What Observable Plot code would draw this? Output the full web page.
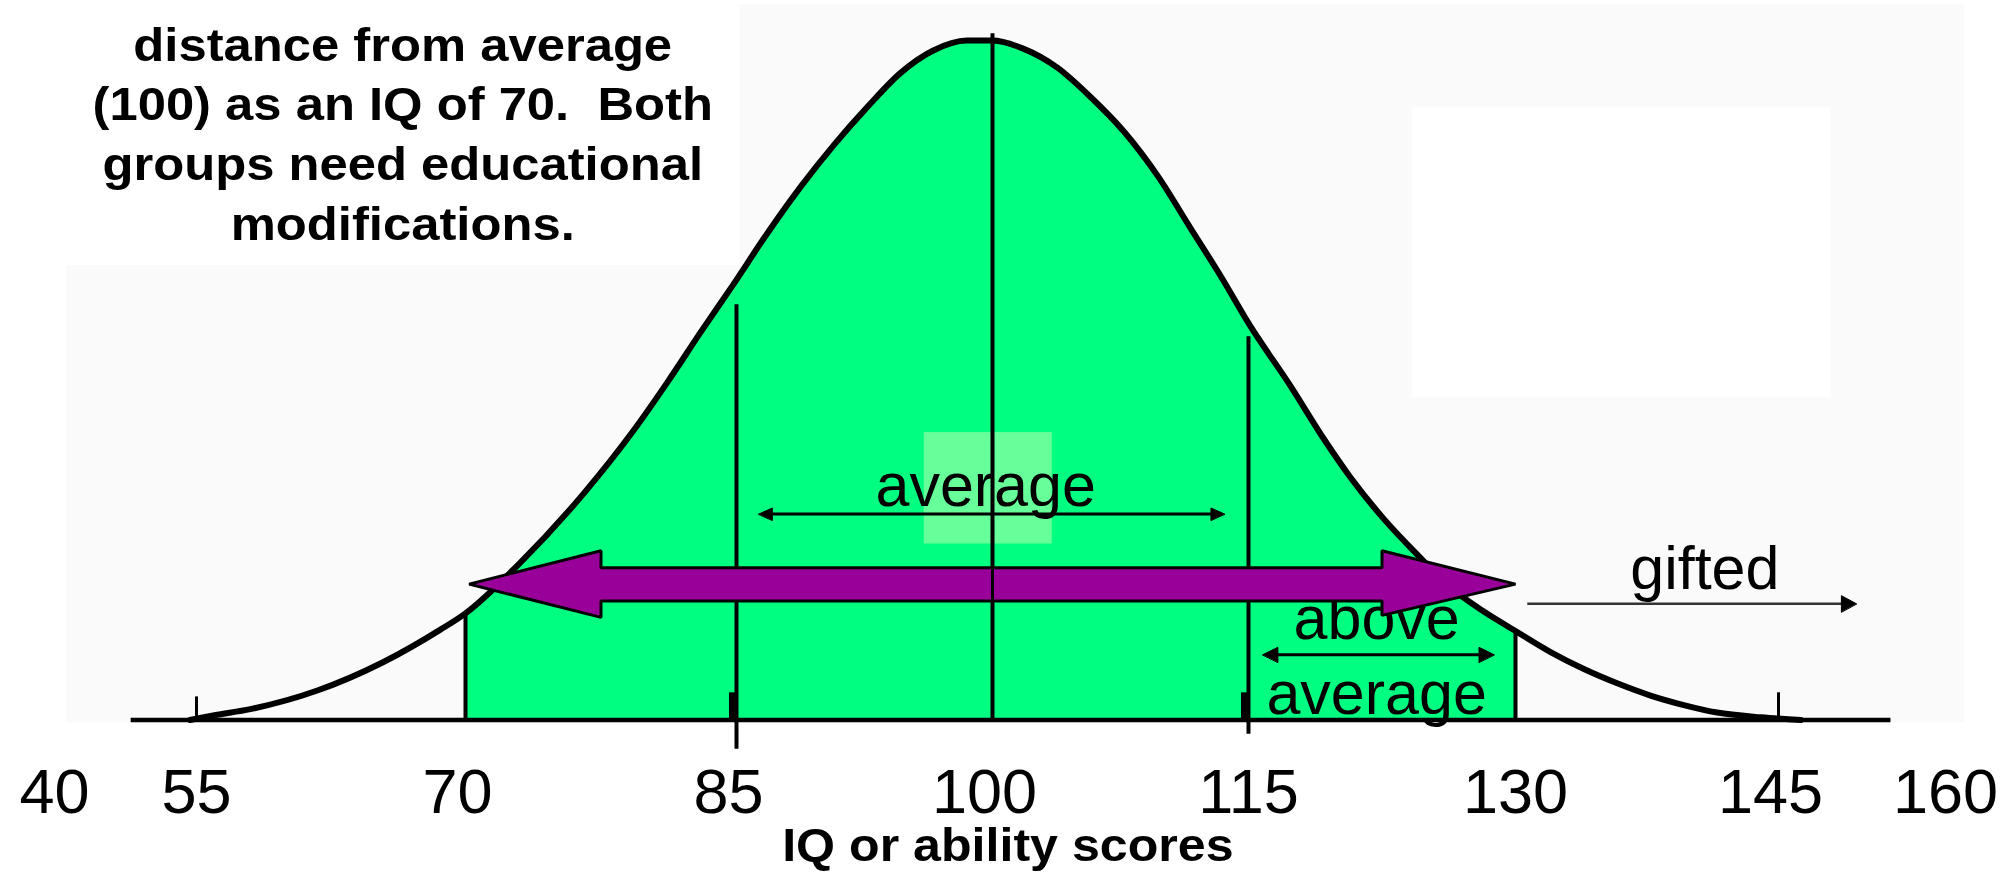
<!DOCTYPE html>
<html>
<head>
<meta charset="utf-8">
<script src="https://cdn.jsdelivr.net/npm/d3@7"></script>
<script src="https://cdn.jsdelivr.net/npm/@observablehq/plot@0.6"></script>
<style>
html, body { margin: 0; padding: 0; background: #ffffff; }
svg text { white-space: pre; }
</style>
</head>
<body>
<div id="chart"></div>
<script>
// ---- data ----
// IQ score along the curve and relative curve height (peak = 1)
const iqScores = [54.3, 56.0, 58.0, 61.7, 65.4, 68.6, 70.0, 72.9, 76.5, 79.3, 81.2, 83.0, 84.8, 86.8, 88.8, 90.7, 92.7, 94.6, 96.5, 98.5, 100, 101.8, 103.8, 105.7, 107.7, 109.7, 111.6, 113.5, 115, 117.4, 119.2, 120.7, 122.6, 124.5, 126.3, 128.2, 130, 132.0, 133.9, 135.8, 137.7, 139.6, 141.5, 144.0, 147];
const curveHeights = [0, 0.007, 0.016, 0.043, 0.085, 0.133, 0.157, 0.228, 0.332, 0.426, 0.498, 0.570, 0.640, 0.716, 0.786, 0.846, 0.903, 0.952, 0.985, 1.0, 1.0, 0.988, 0.960, 0.918, 0.866, 0.800, 0.724, 0.648, 0.584, 0.490, 0.415, 0.358, 0.296, 0.243, 0.196, 0.160, 0.131, 0.100, 0.075, 0.054, 0.036, 0.022, 0.011, 0.004, 0];
const tickValues = [40, 55, 70, 85, 100, 115, 130, 145, 160];
const shiftedTickLabels = [70, 85, 100, 145];
const shadedRange = [70, 130];
const guideIQ = [70, 85, 100, 115, 130];
const guideTops = [0.157, 0.611, 1.01, 0.564, 0.131];
const guideBottoms = [0, -0.043, 0, -0.021, 0];
const minorTickIQ = [55, 145];
const minorTickTops = [0.034, 0.04];
const titleText = "distance from average\n(100) as an IQ of 70.  Both\ngroups need educational\nmodifications.";
const axisTitle = "IQ or ability scores";
const averageLabel = "average";
const aboveLabel = ["above", "average"];
const giftedLabel = "gifted";

// ---- build tables ----
const curve = iqScores.map((iq, i) => ({iq, h: curveHeights[i]}));
const shaded = curve.filter(d => d.iq >= shadedRange[0] && d.iq <= shadedRange[1]);
const guides = guideIQ.map((iq, i) => ({iq, y1: guideBottoms[i], y2: guideTops[i]}));
const minor = minorTickIQ.map((iq, i) => ({iq, y2: minorTickTops[i]}));

const head = (x, y, dir, len, half) => [[x, y], [x - dir * len, y + half], [x - dir * len, y - half]];
const polyOpts = {x: d => d[0], y: d => d[1], curve: "linear-closed"};

const arrowLeft = [[100, 0.224], [77.5, 0.224], [77.5, 0.249], [70.2, 0.2], [77.5, 0.151], [77.5, 0.175], [100, 0.175]];
const arrowRight = [[100, 0.224], [122.5, 0.224], [122.5, 0.249], [130, 0.2], [122.5, 0.154], [122.5, 0.175], [100, 0.175]];

const sans = "'Liberation Sans', Arial, Helvetica, sans-serif";

const chart = Plot.plot({
  width: 2001,
  height: 875,
  marginTop: 0, marginRight: 0, marginBottom: 0, marginLeft: 0,
  style: {background: "#ffffff", overflow: "visible"},
  x: {type: "linear", domain: tickValues, range: [54, 196, 465, 736, 992, 1248, 1515, 1778, 1945], axis: null},
  y: {type: "linear", domain: [0, 1], range: [719.5, 40], axis: null},
  marks: [
    // faint slide background panels
    Plot.rect([{x1: 41.3, x2: 161.7, y1: -0.004, y2: 0.669}, {x1: 85.2, x2: 161.7, y1: 0.669, y2: 1.053}],
      {x1: "x1", x2: "x2", y1: "y1", y2: "y2", fill: "#fafafa"}),
    Plot.rect([{x1: 124.2, x2: 149.7, y1: 0.474, y2: 0.901}],
      {x1: "x1", x2: "x2", y1: "y1", y2: "y2", fill: "#ffffff"}),
    // green shaded region 70-130
    Plot.areaY(shaded, {x: "iq", y: "h", fill: "#00ff80", curve: "monotone-x"}),
    // lighter highlight box behind "average"
    Plot.rect([{x1: 96.0, x2: 103.5, y1: 0.259, y2: 0.423}],
      {x1: "x1", x2: "x2", y1: "y1", y2: "y2", fill: "#66ff99"}),
    // vertical guide lines
    Plot.ruleX(guides, {x: "iq", y1: "y1", y2: "y2", stroke: "#000", strokeWidth: 4}),
    Plot.ruleX([85, 115], {x: d => d, y1: 0, y2: 0.04, stroke: "#000", strokeWidth: 9, dx: -3}),
    Plot.ruleX(minor, {x: "iq", y1: 0, y2: "y2", stroke: "#000", strokeWidth: 3}),
    // bell curve outline
    Plot.line(curve, {x: "iq", y: "h", stroke: "#000", strokeWidth: 6, curve: "monotone-x"}),
    // baseline
    Plot.ruleY([0], {x1: 48.1, x2: 155.1, stroke: "#000", strokeWidth: 4.5}),
    // "average" label and arrow
    Plot.text([averageLabel], {x: 99.6, y: 0.315, text: d => d, fontSize: 61, fontFamily: sans, lineAnchor: "bottom"}),
    Plot.ruleY([0.303], {x1: 87.0, x2: 112.9, stroke: "#000", strokeWidth: 3}),
    Plot.line(head(86.3, 0.303, -1, 0.8, 0.009), {...polyOpts, fill: "#000", stroke: "#000", strokeWidth: 1}),
    Plot.line(head(113.6, 0.303, 1, 0.8, 0.009), {...polyOpts, fill: "#000", stroke: "#000", strokeWidth: 1}),
    // "above average" label and arrow
    Plot.text([aboveLabel[0]], {x: 122.2, y: 0.119, text: d => d, fontSize: 61, fontFamily: sans, lineAnchor: "bottom"}),
    Plot.text([aboveLabel[1]], {x: 122.2, y: 0.009, text: d => d, fontSize: 61, fontFamily: sans, lineAnchor: "bottom"}),
    Plot.ruleY([0.096], {x1: 116.5, x2: 128.0, stroke: "#000", strokeWidth: 3}),
    Plot.line(head(115.8, 0.096, -1, 0.85, 0.011), {...polyOpts, fill: "#000", stroke: "#000", strokeWidth: 1}),
    Plot.line(head(128.8, 0.096, 1, 0.85, 0.011), {...polyOpts, fill: "#000", stroke: "#000", strokeWidth: 1}),
    // big purple double arrow
    Plot.line(arrowLeft, {...polyOpts, fill: "#990099", stroke: "#000", strokeWidth: 3, strokeLinejoin: "miter"}),
    Plot.line(arrowRight, {...polyOpts, fill: "#990099", stroke: "#000", strokeWidth: 3, strokeLinejoin: "miter"}),
    // "gifted" label and arrow
    Plot.text([giftedLabel], {x: 140.8, y: 0.193, text: d => d, fontSize: 61, fontFamily: sans, lineAnchor: "bottom"}),
    Plot.ruleY([0.171], {x1: 130.7, x2: 150.8, stroke: "#333", strokeWidth: 2.5}),
    Plot.line(head(152.0, 0.171, 1, 1.35, 0.012), {...polyOpts, fill: "#000", stroke: "#000", strokeWidth: 1}),
    // tick labels (a few sit slightly left of their tick in the slide)
    Plot.text(tickValues.filter(v => !shiftedTickLabels.includes(v)), {x: d => d, y: -0.137, text: d => String(d), fontSize: 63, fontFamily: sans, lineAnchor: "bottom"}),
    Plot.text(shiftedTickLabels, {x: d => d, y: -0.137, text: d => String(d), fontSize: 63, fontFamily: sans, lineAnchor: "bottom", dx: -8}),
    // axis title
    Plot.text([axisTitle], {x: 100.9, y: -0.208, text: d => d, fontSize: 46, fontWeight: "bold", fontFamily: sans, lineAnchor: "bottom"}),
    // explanatory title text
    Plot.text([titleText], {x: 66.5, y: 0.707, text: d => d, fontSize: 47, fontWeight: "bold", fontFamily: sans, lineAnchor: "bottom", lineHeight: 1.27})
  ]
});
document.getElementById("chart").appendChild(chart);

// the slide's bold text is horizontally stretched: widen it about its centre
const stretch = (el, s) => {
  const b = el.getBBox();
  const cx = b.x + b.width / 2;
  const t = el.getAttribute("transform") || "";
  el.setAttribute("transform", `${t} translate(${cx},0) scale(${s},1) translate(${-cx},0)`);
};
chart.querySelectorAll("text").forEach(el => {
  const s = el.textContent || "";
  if (s.startsWith("distance")) stretch(el, 1.08);
  else if (s === axisTitle) stretch(el, 1.09);
});
</script>
</body>
</html>
